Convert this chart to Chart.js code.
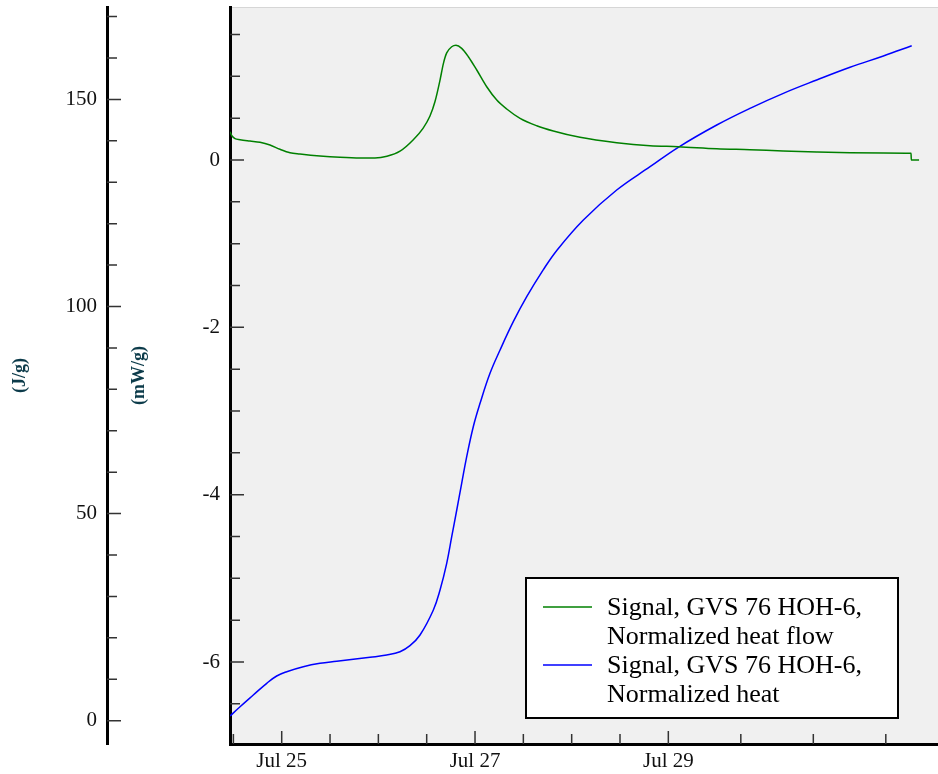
<!DOCTYPE html>
<html>
<head>
<meta charset="utf-8">
<script src="https://cdn.jsdelivr.net/npm/chart.js@4"></script>
<style>
  body { margin: 0; background: #fff; }
  #wrap { width: 938px; height: 774px; position: relative; }
</style>
</head>
<body>
<div id="wrap"><canvas id="calorimetry"></canvas></div>
<script>
// series (x = day of July, fractional)
var flowDays = [24.465, 24.486, 24.517, 24.569, 24.672, 24.775, 24.879, 24.982, 25.086, 25.189, 25.396, 25.603, 25.810, 25.965, 26.089, 26.224, 26.359, 26.462, 26.534, 26.586, 26.638, 26.672, 26.707, 26.759, 26.803, 26.862, 26.931, 27.018, 27.121, 27.225, 27.328, 27.466, 27.638, 27.810, 28.086, 28.466, 28.810, 29.103, 29.501, 29.845, 30.187, 30.535, 30.880, 31.225, 31.511, 31.514, 31.594];
var flowValues = [0.338, 0.287, 0.255, 0.243, 0.227, 0.212, 0.179, 0.128, 0.087, 0.072, 0.048, 0.032, 0.024, 0.024, 0.044, 0.105, 0.239, 0.379, 0.526, 0.699, 0.956, 1.150, 1.280, 1.354, 1.371, 1.335, 1.235, 1.076, 0.876, 0.717, 0.610, 0.498, 0.410, 0.347, 0.271, 0.207, 0.171, 0.159, 0.135, 0.123, 0.108, 0.096, 0.087, 0.084, 0.080, 0.0, 0.0];

var heatDays = [24.465, 24.569, 24.706, 24.845, 24.948, 25.052, 25.223, 25.396, 25.569, 25.741, 25.914, 26.086, 26.224, 26.327, 26.431, 26.569, 26.638, 26.707, 26.759, 26.811, 26.862, 26.914, 26.982, 27.052, 27.155, 27.259, 27.396, 27.535, 27.707, 27.848, 28.121, 28.466, 28.811, 29.103, 29.501, 29.845, 30.190, 30.535, 30.880, 31.225, 31.518];
var heatValues = [1.13, 3.38, 6.20, 9.03, 10.79, 11.83, 13.04, 13.86, 14.34, 14.82, 15.31, 15.86, 16.66, 18.11, 20.69, 26.73, 31.55, 38.00, 44.42, 50.87, 57.31, 63.74, 70.98, 76.63, 83.87, 89.50, 96.33, 102.37, 108.9, 113.6, 120.88, 128.13, 133.75, 138.44, 143.82, 147.85, 151.47, 154.68, 157.75, 160.48, 162.96];

var seriesNames = [
  ['Signal, GVS 76 HOH-6,', 'Normalized heat flow'],
  ['Signal, GVS 76 HOH-6,', 'Normalized heat']
];

// tick marks and their labels
var dayTicks = [24.5, 25, 25.5, 26, 26.5, 27, 27.5, 28, 28.5, 29, 29.75, 30.5, 31.25];
var dayLabelled = [25, 27, 29];
var dayLabels = ['Jul 25', 'Jul 27', 'Jul 29'];
var heatTicks = [0, 10, 20, 30, 40, 50, 60, 70, 80, 90, 100, 110, 120, 130, 140, 150, 160, 170];
var heatLabelled = [0, 50, 100, 150];
var flowTicks = [-6.5, -6, -5.5, -5, -4.5, -4, -3.5, -3, -2.5, -2, -1.5, -1, -0.5, 0, 0.5, 1, 1.5];
var flowLabelled = [-6, -4, -2, 0];

var serif = "'Liberation Serif', 'Times New Roman', serif";

function setTicks(list) {
  return function (scale) {
    scale.ticks = list.map(function (v) { return { value: v }; });
  };
}
function fixSize(prop, size) {
  return function (scale) {
    scale[prop] = size;
    scale.paddingTop = 0; scale.paddingBottom = 0;
    scale.paddingLeft = 0; scale.paddingRight = 0;
  };
}

var plotBackground = {
  id: 'plotBackground',
  beforeDraw: function (chart) {
    var ctx = chart.ctx, a = chart.chartArea;
    ctx.save();
    ctx.fillStyle = '#f0f0f0';
    ctx.fillRect(a.left, a.top, a.right - a.left, a.bottom - a.top);
    ctx.strokeStyle = '#d6d6d6';
    ctx.lineWidth = 1;
    ctx.beginPath();
    ctx.moveTo(a.left, a.top + 0.5);
    ctx.lineTo(a.right, a.top + 0.5);
    ctx.stroke();
    ctx.restore();
  }
};

// inward tick marks, long for labelled values
var tickMarks = {
  id: 'tickMarks',
  afterDraw: function (chart) {
    var ctx = chart.ctx;
    ctx.save();
    ctx.strokeStyle = '#333';
    ctx.lineWidth = 1.5;
    ctx.beginPath();
    [['yHeat', heatLabelled], ['yFlow', flowLabelled]].forEach(function (p) {
      var s = chart.scales[p[0]];
      s.ticks.forEach(function (t) {
        var y = s.getPixelForValue(t.value);
        var len = p[1].indexOf(t.value) >= 0 ? 14 : 10;
        ctx.moveTo(s.right, y);
        ctx.lineTo(s.right + len, y);
      });
    });
    var xs = chart.scales.x;
    xs.ticks.forEach(function (t) {
      var x = xs.getPixelForValue(t.value);
      var len = dayLabelled.indexOf(t.value) >= 0 ? 13 : 10;
      ctx.moveTo(x, xs.top);
      ctx.lineTo(x, xs.top - len);
    });
    ctx.stroke();
    ctx.restore();
  }
};

var boxLegend = {
  id: 'boxLegend',
  afterDraw: function (chart) {
    var ctx = chart.ctx;
    ctx.save();
    ctx.fillStyle = '#fff';
    ctx.fillRect(526, 578, 372, 140);
    ctx.strokeStyle = '#000';
    ctx.lineWidth = 2;
    ctx.strokeRect(526, 578, 372, 140);
    ctx.font = '26px ' + serif;
    ctx.textBaseline = 'alphabetic';
    chart.data.datasets.forEach(function (ds, i) {
      var base = 615 + i * 58;
      ctx.strokeStyle = ds.borderColor;
      ctx.lineWidth = 1.5;
      ctx.beginPath();
      ctx.moveTo(543, base - 8);
      ctx.lineTo(592, base - 8);
      ctx.stroke();
      ctx.fillStyle = '#000';
      seriesNames[i].forEach(function (line, j) {
        ctx.fillText(line, 607, base + j * 29);
      });
    });
    ctx.restore();
  }
};

var ctx = document.getElementById('calorimetry').getContext('2d');
var chart = new Chart(ctx, {
  type: 'line',
  data: {
    datasets: [{
      label: seriesNames[0].join(' '),
      data: flowDays.map(function (d, i) { return { x: d, y: flowValues[i] }; }),
      borderColor: '#008000',
      borderWidth: 1.5,
      pointRadius: 0,
      cubicInterpolationMode: 'monotone',
      yAxisID: 'yFlow'
    }, {
      label: seriesNames[1].join(' '),
      data: heatDays.map(function (d, i) { return { x: d, y: heatValues[i] }; }),
      borderColor: '#0000ff',
      borderWidth: 1.5,
      pointRadius: 0,
      tension: 0.4,
      yAxisID: 'yHeat'
    }]
  },
  options: {
    responsive: true,
    maintainAspectRatio: false,
    animation: false,
    layout: { padding: { top: 7, left: 0, right: 0, bottom: 0 } },
    plugins: {
      legend: { display: false },
      tooltip: { enabled: false }
    },
    scales: {
      x: {
        type: 'linear',
        position: 'bottom',
        min: 24.465,
        max: 31.79,
        afterBuildTicks: setTicks(dayTicks),
        afterFit: fixSize('height', 30),
        grid: { drawOnChartArea: false, drawTicks: false },
        border: { display: true, color: '#000', width: 3 },
        ticks: {
          autoSkip: false,
          maxRotation: 0,
          padding: 5,
          color: '#111',
          font: { family: serif, size: 21 },
          callback: function (v) {
            var k = dayLabelled.indexOf(v);
            return k >= 0 ? dayLabels[k] : '';
          }
        }
      },
      yHeat: {
        type: 'linear',
        position: 'left',
        weight: 1,
        min: -5.625,
        max: 172.31,
        afterBuildTicks: setTicks(heatTicks),
        afterFit: fixSize('width', 107),
        grid: { drawOnChartArea: false, drawTicks: false },
        border: { display: true, color: '#000', width: 3 },
        title: {
          display: true,
          text: '(J/g)',
          color: '#0c3b4a',
          padding: { top: 10, bottom: 0 },
          font: { family: serif, size: 18, weight: 'bold' }
        },
        ticks: {
          autoSkip: false,
          padding: 10,
          color: '#111',
          font: { family: serif, size: 21 },
          callback: function (v) { return heatLabelled.indexOf(v) >= 0 ? String(v) : ''; }
        }
      },
      yFlow: {
        type: 'linear',
        position: 'left',
        weight: 0,
        min: -6.98,
        max: 1.829,
        afterBuildTicks: setTicks(flowTicks),
        afterFit: fixSize('width', 123),
        grid: { drawOnChartArea: false, drawTicks: false },
        border: { display: true, color: '#000', width: 3 },
        title: {
          display: true,
          text: '(mW/g)',
          color: '#0c3b4a',
          padding: { top: 22, bottom: 0 },
          font: { family: serif, size: 18, weight: 'bold' }
        },
        ticks: {
          autoSkip: false,
          padding: 10,
          color: '#111',
          font: { family: serif, size: 21 },
          callback: function (v) { return flowLabelled.indexOf(v) >= 0 ? String(v) : ''; }
        }
      }
    }
  },
  plugins: [plotBackground, tickMarks, boxLegend]
});
</script>
</body>
</html>
